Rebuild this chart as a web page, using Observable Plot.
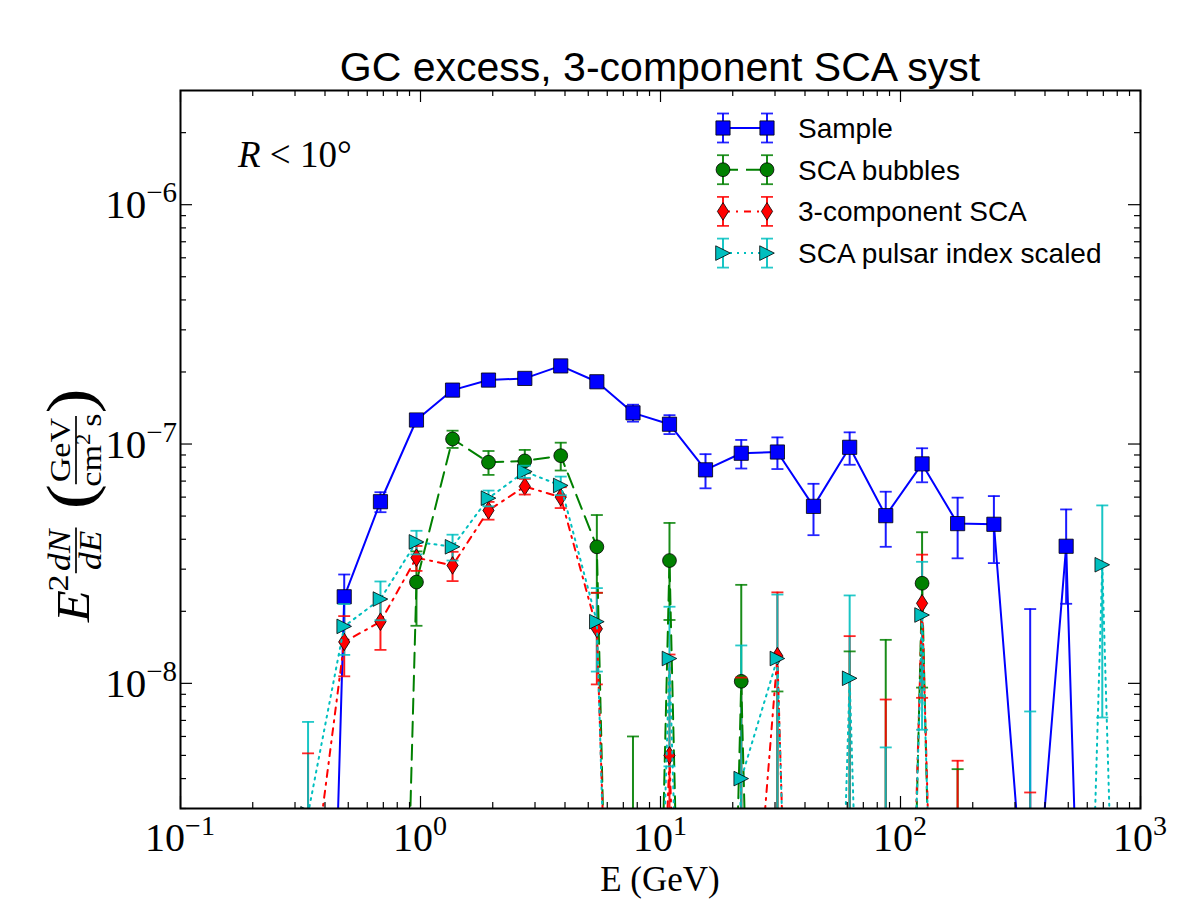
<!DOCTYPE html>
<html>
<head>
<meta charset="utf-8">
<script src="https://cdn.jsdelivr.net/npm/d3@7"></script>
<script src="https://cdn.jsdelivr.net/npm/@observablehq/plot@0.6"></script>
<style>
  html, body { margin: 0; padding: 0; background: #ffffff; }
  #chart { position: relative; width: 1200px; height: 900px; overflow: hidden; background: #ffffff; }
</style>
</head>
<body>
<div id="chart"></div>
<script>
// ---------------- data ----------------
const titleText = "GC excess, 3-component SCA syst";
const xLabelText = "E (GeV)";
const seriesNames = ["Sample", "SCA bubbles", "3-component SCA", "SCA pulsar index scaled"];

// bin energies (GeV)
const energies = [0.340, 0.481, 0.681, 0.962, 1.36, 1.92, 2.72, 3.84, 5.43, 7.68, 10.9, 15.4,
                  21.7, 30.7, 43.4, 61.4, 86.8, 123, 173, 245, 347, 490, 693, 980];

// E^2 dN/dE (GeV cm^-2 s^-1); tiny numbers = points far below the plotted range
const sampleValues = [1.3e-13, 2.30e-8, 5.74e-8, 1.26e-7, 1.68e-7, 1.85e-7, 1.88e-7, 2.12e-7, 1.82e-7, 1.35e-7,
                      1.21e-7, 7.8e-8, 9.15e-8, 9.26e-8, 5.49e-8, 9.69e-8, 5.02e-8, 8.26e-8, 4.65e-8, 4.62e-8,
                      5.4e-10, 3.74e-8, 4.9e-13, 1e-13];
const sampleErrors = [0, 0.55e-8, 0.55e-8, 0.7e-8, 0.5e-8, 0.5e-8, 0.5e-8, 0.5e-8, 0.5e-8, 1.1e-8,
                      1.1e-8, 1.27e-8, 1.25e-8, 1.4e-8, 1.33e-8, 1.5e-8, 1.3e-8, 1.34e-8, 1.32e-8, 1.44e-8,
                      1.99e-8, 1.59e-8, 0, 0];

const bubblesValues = [1e-13, 1e-13, 6.3e-14, 2.65e-8, 1.05e-7, 8.39e-8, 8.5e-8, 8.94e-8, 3.72e-8, 1.1e-14,
                       3.26e-8, 1e-14, 1.02e-8, 1e-14, 1e-14, 1e-14, 1e-14, 2.62e-8, 1e-14, 1e-14,
                       1e-14, 1e-14, 1e-14, 1e-14];
const bubblesErrors = [0, 0, 0, 0.91e-8, 0.87e-8, 0.96e-8, 0.95e-8, 1.19e-8, 1.33e-8, 6.0e-9,
                       1.42e-8, 0, 1.56e-8, 9.25e-9, 0, 1.36e-8, 1.52e-8, 1.66e-8, 4.38e-9, 0,
                       0, 0, 0, 0];

const threeCompValues = [1.0e-9, 1.49e-8, 1.81e-8, 3.35e-8, 3.11e-8, 5.28e-8, 6.65e-8, 6.0e-8, 1.69e-8, 3e-13,
                         5.0e-9, 1e-13, 1.7e-10, 1.30e-8, 1e-13, 1e-13, 1e-13, 2.16e-8, 1e-13, 1e-13,
                         1e-13, 1e-13, 1e-13, 1e-13];
const threeCompErrors = [4.1e-9, 0.42e-8, 0.43e-8, 0.4e-8, 0.435e-8, 0.45e-8, 0.5e-8, 0.6e-8, 0.7e-8, 0,
                         0.82e-8, 0, 1.04e-8, 1.1e-8, 0, 1.575e-8, 8.56e-9, 1.29e-8, 4.75e-9, 0,
                         3.5e-9, 0, 0, 0];

const pulsarValues = [2.85e-9, 1.73e-8, 2.25e-8, 3.9e-8, 3.72e-8, 5.94e-8, 7.67e-8, 6.71e-8, 1.81e-8, 1e-13,
                      1.27e-8, 1e-13, 4.0e-9, 1.27e-8, 1e-13, 1.05e-8, 1e-13, 1.93e-8, 1e-13, 1e-13,
                      1e-13, 2e-13, 3.13e-8, 2e-13];
const pulsarErrors = [4.05e-9, 0.415e-8, 0.415e-8, 0.44e-8, 0.46e-8, 0.45e-8, 0.45e-8, 0.6e-8, 0.69e-8, 0,
                      0.82e-8, 0, 1.04e-8, 1.08e-8, 0, 1.28e-8, 5.4e-9, 1.29e-8, 0, 0,
                      7.63e-9, 0, 2.41e-8, 0];

// axes
const xDomain = [0.1, 1000];
const yDomain = [3e-9, 3e-6];
const xTickValues = [0.1, 1, 10, 100, 1000];
const xTickExponents = ["\u22121", "0", "1", "2", "3"];
const yTickValues = [1e-8, 1e-7, 1e-6];
const yTickExponents = ["\u22128", "\u22127", "\u22126"];
const minorMultipliers = [2, 3, 4, 5, 6, 7, 8, 9];
const xDecades = [0.1, 1, 10, 100];
const yDecades = [1e-9, 1e-8, 1e-7, 1e-6];

// ---------------- styling ----------------
const W = 1200, H = 900;
const M = {left: 180, right: 60, top: 90, bottom: 92};
const frameW = W - M.left - M.right, frameH = H - M.top - M.bottom;
const SANS = "'Liberation Sans', Arial, Helvetica, sans-serif";
const SERIF = "'Liberation Serif', 'Times New Roman', serif";

const squareSym = {draw(c) { const h = 7.1; c.moveTo(-h, -h); c.lineTo(h, -h); c.lineTo(h, h); c.lineTo(-h, h); c.closePath(); }};
const circleSym = {draw(c) { const r = 6.9; c.moveTo(r, 0); c.arc(0, 0, r, 0, 2 * Math.PI); c.closePath(); }};
const thinDiamondSym = {draw(c) { const a = 5.6, b = 8.8; c.moveTo(0, -b); c.lineTo(a, 0); c.lineTo(0, b); c.lineTo(-a, 0); c.closePath(); }};
const rightTriSym = {draw(c) { const h = 7.3; c.moveTo(h, 0); c.lineTo(-h, -h); c.lineTo(-h, h); c.closePath(); }};
const capSym = {draw(c) { c.moveTo(-6, 0); c.lineTo(6, 0); }};

const seriesDefs = [
  {name: seriesNames[0], values: sampleValues, errors: sampleErrors, color: "#0000ff", dash: null, symbol: squareSym},
  {name: seriesNames[1], values: bubblesValues, errors: bubblesErrors, color: "#008000", dash: "15,8", symbol: circleSym},
  {name: seriesNames[2], values: threeCompValues, errors: threeCompErrors, color: "#ff0000", dash: "7,6,2,6", symbol: thinDiamondSym},
  {name: seriesNames[3], values: pulsarValues, errors: pulsarErrors, color: "#00bfbf", dash: "2,5", symbol: rightTriSym}
];

const tableFor = (s) => energies.map((E, i) => {
  const v = s.values[i], e = s.errors[i];
  return {E, v, e, hi: v + e, lo: v - e, loBar: (v - e) > 0 ? v - e : 1e-30};
});

const ruleMarks = [];
const seriesMarks = [];
for (const s of seriesDefs) {
  const t = tableFor(s);
  const withErr = t.filter(d => d.e > 0);
  ruleMarks.push(Plot.ruleX(withErr, {x: "E", y1: "loBar", y2: "hi", stroke: s.color, strokeWidth: 2, strokeOpacity: 0.9, clip: true}));
  seriesMarks.push(Plot.line(t, {x: "E", y: "v", stroke: s.color, strokeWidth: 2, strokeDasharray: s.dash, clip: true}));
  seriesMarks.push(Plot.dot(t, {x: "E", y: "v", symbol: s.symbol, fill: s.color, stroke: "#000", strokeWidth: 0.8, r: 7, clip: true}));
  seriesMarks.push(Plot.dot(withErr, {x: "E", y: "hi", symbol: capSym, stroke: s.color, strokeOpacity: 0.85, fill: "none", strokeWidth: 1.8, r: 6, clip: true}));
  seriesMarks.push(Plot.dot(withErr.filter(d => d.lo > 0), {x: "E", y: "lo", symbol: capSym, stroke: s.color, strokeOpacity: 0.85, fill: "none", strokeWidth: 1.8, r: 6, clip: true}));
}

const xMinor = minorMultipliers.flatMap(m => xDecades.map(d => m * d));
const yMinor = minorMultipliers.flatMap(m => yDecades.map(d => m * d)).filter(v => v > yDomain[0] && v < yDomain[1]);
const MAJ = 12, MIN = 6;
const tickStyle = {stroke: "#000", strokeWidth: 1.2};
const tickMarks = [
  Plot.tickX(xTickValues, {x: d => d, insetTop: frameH - MAJ, ...tickStyle}),
  Plot.tickX(xTickValues, {x: d => d, insetBottom: frameH - MAJ, ...tickStyle}),
  Plot.tickX(xMinor, {x: d => d, insetTop: frameH - MIN, ...tickStyle}),
  Plot.tickX(xMinor, {x: d => d, insetBottom: frameH - MIN, ...tickStyle}),
  Plot.tickY(yTickValues, {y: d => d, insetRight: frameW - MAJ, ...tickStyle}),
  Plot.tickY(yTickValues, {y: d => d, insetLeft: frameW - MAJ, ...tickStyle}),
  Plot.tickY(yMinor, {y: d => d, insetRight: frameW - MIN, ...tickStyle}),
  Plot.tickY(yMinor, {y: d => d, insetLeft: frameW - MIN, ...tickStyle})
];

const svg = Plot.plot({
  width: W, height: H,
  marginLeft: M.left, marginRight: M.right, marginTop: M.top, marginBottom: M.bottom,
  style: {background: "#ffffff", overflow: "visible"},
  x: {type: "log", domain: xDomain, axis: null},
  y: {type: "log", domain: yDomain, axis: null},
  marks: [
    ...ruleMarks,
    ...seriesMarks,
    ...tickMarks,
    Plot.frame({stroke: "#000", strokeWidth: 2})
  ]
});
document.getElementById("chart").appendChild(svg);

// ---------------- text built on the plot's own scales ----------------
const xs = svg.scale("x"), ys = svg.scale("y");
const root = d3.select(svg).append("g").attr("fill", "#000").attr("text-anchor", "start");

// x tick labels
xTickValues.forEach((v, i) => {
  const t = root.append("text").attr("x", xs.apply(v)).attr("y", 851)
    .attr("text-anchor", "middle").attr("font-family", SERIF).attr("font-size", 40);
  t.append("tspan").text("10");
  t.append("tspan").attr("dy", -16).attr("font-size", 28).text(xTickExponents[i]);
});
// y tick labels
yTickValues.forEach((v, i) => {
  const t = root.append("text").attr("x", 177).attr("y", ys.apply(v) + 14)
    .attr("text-anchor", "end").attr("font-family", SERIF).attr("font-size", 41);
  t.append("tspan").text("10");
  t.append("tspan").attr("dy", -16).attr("font-size", 29).text(yTickExponents[i]);
});

// title
root.append("text").attr("x", M.left + frameW / 2).attr("y", 81).attr("text-anchor", "middle")
  .attr("font-family", SANS).attr("font-size", 41).text(titleText);

// x label
root.append("text").attr("x", M.left + frameW / 2).attr("y", 891).attr("text-anchor", "middle")
  .attr("font-family", SERIF).attr("font-size", 35).text(xLabelText);

// y label  E^2 dN/dE (GeV / cm^2 s)  -- rotated; local x runs bottom -> top
const yl = root.append("g").attr("transform", "translate(76,482) rotate(-90) scale(1.14,1)")
  .attr("font-family", SERIF).attr("text-anchor", "start");
yl.append("text").attr("x", -123).attr("y", 13).attr("font-size", 46).attr("font-style", "italic").text("E");
yl.append("text").attr("x", -96).attr("y", -8).attr("font-size", 30).text("2");
yl.append("text").attr("x", -60).attr("y", -6).attr("text-anchor", "middle").attr("font-size", 31).attr("font-style", "italic").text("dN");
yl.append("line").attr("x1", -80).attr("x2", -40).attr("y1", 0).attr("y2", 0).attr("stroke", "#000").attr("stroke-width", 1.7);
yl.append("text").attr("x", -60).attr("y", 25).attr("text-anchor", "middle").attr("font-size", 31).attr("font-style", "italic").text("dE");
yl.append("text").attr("x", -24).attr("y", 16).attr("font-size", 66).text("(");
yl.append("text").attr("x", 28).attr("y", -6).attr("text-anchor", "middle").attr("font-size", 30).text("GeV");
yl.append("line").attr("x1", -2).attr("x2", 58).attr("y1", 0).attr("y2", 0).attr("stroke", "#000").attr("stroke-width", 1.7);
const den = yl.append("text").attr("x", 28).attr("y", 25).attr("text-anchor", "middle").attr("font-size", 30);
den.append("tspan").text("cm");
den.append("tspan").attr("dy", -11).attr("font-size", 20).text("2");
den.append("tspan").attr("dy", 11).text("\u2009s");
yl.append("text").attr("x", 60).attr("y", 16).attr("font-size", 66).text(")");

// annotation R < 10°
const ann = root.append("text").attr("x", 238).attr("y", 167).attr("text-anchor", "start")
  .attr("font-family", SERIF).attr("font-size", 37);
ann.append("tspan").attr("font-style", "italic").text("R");
ann.append("tspan").text(" < 10\u00B0");

// legend
const legX1 = 723, legX2 = 767, legTextX = 798, legY0 = 128, legDy = 41.7;
seriesDefs.forEach((s, i) => {
  const y = legY0 + i * legDy;
  const g = root.append("g");
  g.append("line").attr("x1", legX1).attr("x2", legX2).attr("y1", y).attr("y2", y)
    .attr("stroke", s.color).attr("stroke-width", 2).attr("stroke-dasharray", s.dash);
  [legX1, legX2].forEach(x => {
    g.append("line").attr("x1", x).attr("x2", x).attr("y1", y - 14.5).attr("y2", y + 14.5)
      .attr("stroke", s.color).attr("stroke-width", 2).attr("stroke-opacity", 0.9);
    g.append("path").attr("d", d3.symbol(s.symbol)()).attr("transform", `translate(${x},${y})`)
      .attr("fill", s.color).attr("stroke", "#000").attr("stroke-width", 0.8);
    [y - 14.5, y + 14.5].forEach(cy => {
      g.append("path").attr("d", d3.symbol(capSym)()).attr("transform", `translate(${x},${cy})`)
        .attr("fill", "none").attr("stroke", s.color).attr("stroke-width", 1.8).attr("stroke-opacity", 0.85);
    });
  });
  g.append("text").attr("x", legTextX).attr("y", y + 10).attr("text-anchor", "start")
    .attr("font-family", SANS).attr("font-size", 28).text(s.name);
});
</script>
</body>
</html>
